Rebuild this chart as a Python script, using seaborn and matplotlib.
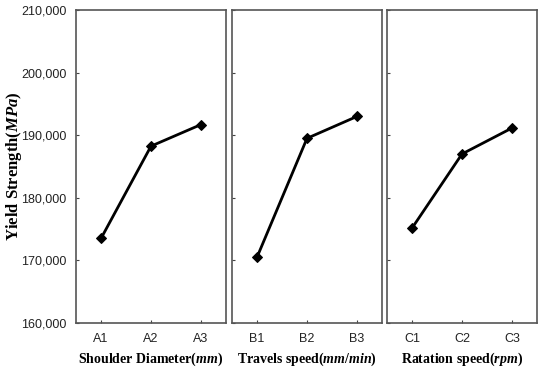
import matplotlib
matplotlib.use("Agg")
import matplotlib.pyplot as plt
import seaborn as sns
import pandas as pd
from matplotlib.ticker import FuncFormatter

sns.set_theme(style="white")
plt.rcParams['font.family'] = ['Liberation Sans Narrow', 'Liberation Sans', 'DejaVu Sans']
plt.rcParams['mathtext.fontset'] = 'custom'
plt.rcParams['mathtext.it'] = 'Liberation Serif:italic:bold'
plt.rcParams['mathtext.rm'] = 'Liberation Serif:bold'

levels_a = ["A1", "A2", "A3"]
levels_b = ["B1", "B2", "B3"]
levels_c = ["C1", "C2", "C3"]
values_a = [173500, 188250, 191700]
values_b = [170500, 189500, 193000]
values_c = [175150, 187000, 191150]
xlabels = ["Shoulder Diameter($mm$)", "Travels speed($mm/min$)", "Ratation speed($rpm$)"]
ylabel = "Yield Strength($MPa$)"
yticks = [160000, 170000, 180000, 190000, 200000, 210000]

fig = plt.figure(figsize=(5.38, 3.70), dpi=100)
W, H = 538, 370
lefts = [76, 232, 387]
panels = [(levels_a, values_a), (levels_b, values_b), (levels_c, values_c)]
for i, (lv, vals) in enumerate(panels):
    ax = fig.add_axes([lefts[i] / W, 47 / H, 150 / W, 313 / H])
    df = pd.DataFrame({"level": lv, "value": vals, "pos": range(len(lv))})
    sns.lineplot(data=df, x="pos", y="value", ax=ax, color="black", lw=2.0,
                 marker="D", markersize=5, markeredgecolor="black")
    ax.set_xlim(-0.5, 2.5)
    ax.set_ylim(160000, 210000)
    ax.set_xticks(range(len(lv)))
    ax.set_xticklabels(lv)
    ax.set_yticks(yticks)
    ax.tick_params(direction="in", length=2.5, width=0.8, colors="#444444",
                   labelcolor="#222222", labelsize=9, pad=7,
                   bottom=True, left=True)
    if i == 0:
        ax.yaxis.set_major_formatter(FuncFormatter(lambda v, p: f"{int(v):,}"))
        ax.set_ylabel(ylabel, family="Liberation Serif", fontweight="bold",
                      fontsize=12, color="black")
        ax.yaxis.set_label_coords(-0.345, 0.5)
    else:
        ax.set_yticklabels([])
        ax.set_ylabel("")
    ax.set_xlabel(xlabels[i], family="Liberation Serif", fontweight="bold",
                  fontsize=10, labelpad=4, color="black")
    for s in ax.spines.values():
        s.set_color("#555555")
        s.set_linewidth(1.2)
        s.set_visible(True)

fig.savefig("out.png", dpi=100, facecolor="white")
